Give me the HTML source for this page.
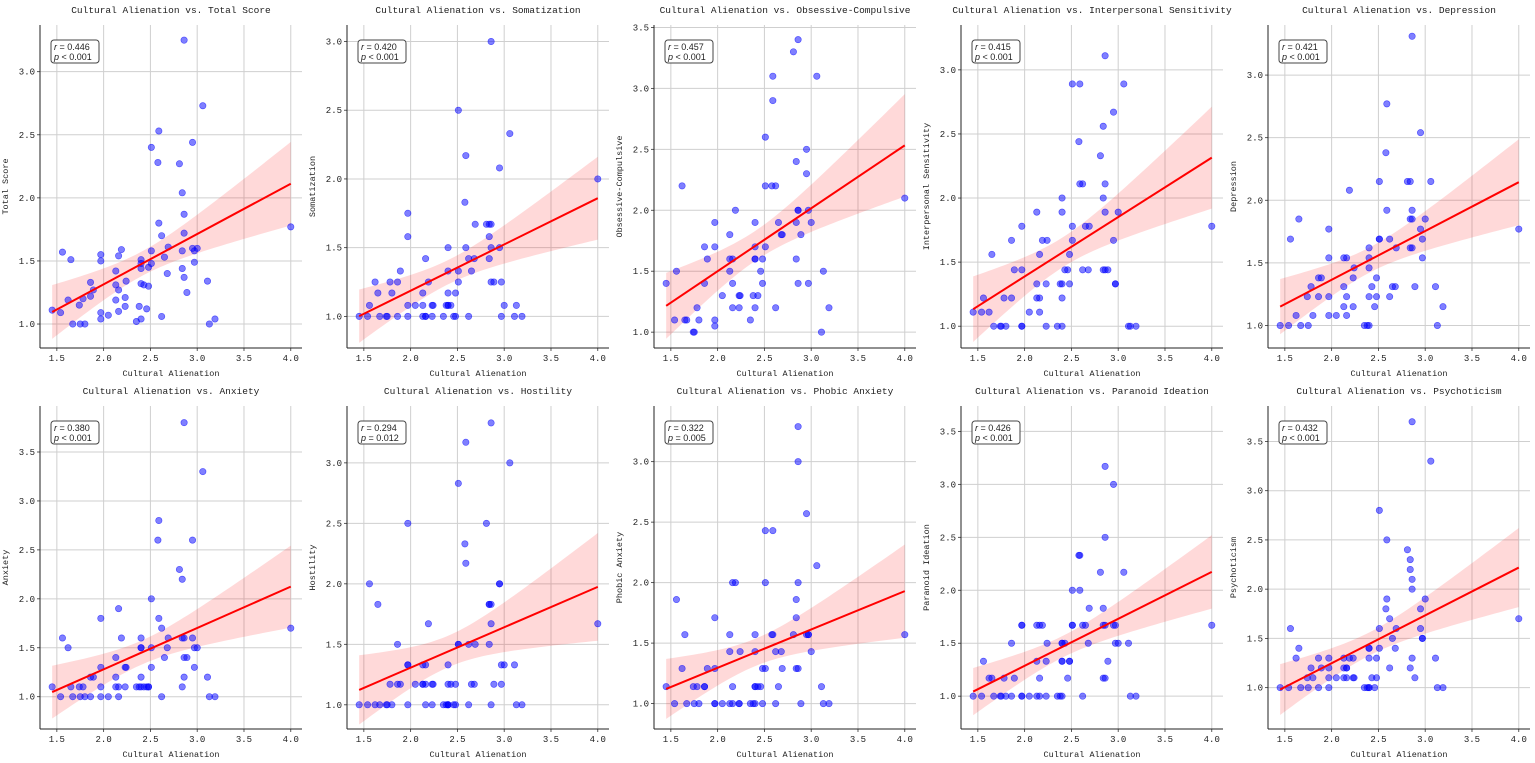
<!DOCTYPE html>
<html><head><meta charset="utf-8">
<style>
html,body{margin:0;padding:0;background:#fff;}
svg{display:block;}
text{font-family:"Liberation Mono","DejaVu Sans Mono",monospace;fill:#222;}
</style></head>
<body>
<svg id="chart" width="1535" height="763" viewBox="0 0 1535 763" xmlns="http://www.w3.org/2000/svg"></svg>
<script>
const xVals=[2.86,3.06,2.59,2.51,2.95,2.58,2.81,2.84,2.86,4.0,2.59,2.62,2.86,2.69,2.95,3.0,2.97,2.84,2.51,1.56,1.65,1.97,1.97,2.19,2.16,2.40,2.40,2.51,2.65,2.48,2.40,2.84,2.97,2.13,2.68,2.86,3.11,2.24,1.86,2.13,2.40,2.43,2.48,1.89,2.16,2.89,1.86,1.78,2.23,1.62,2.13,1.74,2.23,2.38,1.45,1.54,1.97,2.16,2.46,2.05,1.97,2.62,2.40,2.35,1.67,1.75,1.80,3.13,3.19];
const yTotal=[3.25,2.73,2.53,2.40,2.44,2.28,2.27,2.04,1.87,1.77,1.80,1.70,1.72,1.61,1.60,1.60,1.58,1.58,1.58,1.57,1.51,1.55,1.50,1.59,1.54,1.51,1.48,1.48,1.53,1.45,1.44,1.44,1.49,1.42,1.40,1.37,1.34,1.34,1.33,1.31,1.32,1.31,1.30,1.27,1.27,1.25,1.22,1.20,1.21,1.19,1.19,1.15,1.14,1.14,1.11,1.09,1.09,1.10,1.12,1.07,1.04,1.06,1.04,1.02,1.0,1.0,1.0,1.0,1.04];
const ySom=[3.0,2.33,2.17,2.5,2.08,1.83,1.67,1.67,1.67,2.0,1.5,1.42,1.5,1.67,1.5,1.08,1.25,1.42,1.33,1.08,1.17,1.75,1.58,1.25,1.42,1.5,1.33,1.25,1.33,1.17,1.08,1.58,1.0,1.17,1.42,1.25,1.0,1.08,1.25,1.08,1.17,1.08,1.0,1.33,1.0,1.25,1.0,1.25,1.08,1.25,1.0,1.0,1.0,1.08,1.0,1.0,1.08,1.0,1.0,1.08,1.0,1.0,1.08,1.0,1.0,1.0,1.17,1.08,1.0];
const yObs=[3.4,3.1,3.1,2.6,2.5,2.2,3.3,2.4,2.0,2.1,2.9,2.2,2.0,1.8,2.3,1.9,2.0,1.9,2.2,1.5,1.1,1.9,1.7,2.0,1.6,1.9,1.6,1.7,1.9,1.6,1.6,1.6,1.4,1.5,1.8,1.4,1.0,1.3,1.7,1.6,1.7,1.3,1.4,1.6,1.4,1.8,1.4,1.2,1.3,2.2,1.8,1.0,1.2,1.3,1.4,1.1,1.1,1.2,1.5,1.3,1.05,1.2,1.2,1.1,1.1,1.0,1.1,1.5,1.2];
const yInt=[3.11,2.89,2.89,2.89,2.67,2.44,2.33,2.56,2.11,1.78,2.11,2.11,1.89,1.78,1.67,1.89,1.33,2.0,1.78,1.22,1.56,1.78,1.44,1.67,1.56,2.0,1.89,1.67,1.78,1.56,1.33,1.44,1.33,1.89,1.44,1.44,1.0,1.67,1.67,1.33,1.22,1.44,1.33,1.44,1.22,1.44,1.22,1.22,1.33,1.11,1.22,1.0,1.0,1.33,1.11,1.11,1.0,1.11,1.44,1.11,1.0,1.44,1.0,1.0,1.0,1.0,1.0,1.0,1.0];
const yDep=[3.31,2.15,2.77,2.15,2.54,2.38,2.15,2.15,1.92,1.77,1.92,1.69,1.85,1.62,1.77,1.85,1.54,1.85,1.69,1.69,1.85,1.77,1.54,2.08,1.54,1.62,1.54,1.69,1.31,1.38,1.46,1.62,1.69,1.31,1.31,1.62,1.31,1.46,1.38,1.54,1.23,1.31,1.23,1.38,1.23,1.31,1.23,1.31,1.38,1.08,1.15,1.23,1.15,1.0,1.0,1.0,1.08,1.08,1.15,1.08,1.23,1.23,1.0,1.0,1.0,1.0,1.08,1.0,1.15];
const yAnx=[3.8,3.3,2.8,2.0,2.6,2.6,2.3,2.2,1.6,1.7,1.8,1.7,1.4,1.6,1.6,1.5,1.5,1.6,1.3,1.6,1.1,1.8,1.3,1.6,1.9,1.5,1.6,1.5,1.4,1.1,1.5,1.1,1.3,1.4,1.5,1.2,1.2,1.3,1.2,1.2,1.2,1.1,1.1,1.2,1.1,1.4,1.0,1.1,1.3,1.5,1.1,1.1,1.1,1.1,1.1,1.0,1.1,1.0,1.1,1.0,1.0,1.0,1.1,1.1,1.0,1.0,1.0,1.0,1.0];
const yHos=[3.33,3.0,3.17,2.83,2.0,2.33,2.5,1.83,1.83,1.67,2.17,1.5,1.67,1.5,2.0,1.33,1.17,1.83,1.5,2.0,1.83,2.5,1.33,1.67,1.17,1.17,1.33,1.5,1.17,1.17,1.0,1.5,1.33,1.33,1.17,1.0,1.33,1.17,1.5,1.17,1.0,1.17,1.0,1.17,1.33,1.17,1.17,1.17,1.17,1.0,1.17,1.0,1.0,1.0,1.0,1.0,1.33,1.0,1.0,1.17,1.0,1.0,1.0,1.0,1.0,1.0,1.0,1.0,1.0];
const yPho=[3.29,2.14,2.43,2.43,2.57,1.57,1.57,1.86,2.0,1.57,1.57,1.43,3.0,1.29,1.57,1.43,1.57,1.71,2.0,1.86,1.57,1.71,1.29,2.0,2.0,1.57,1.43,1.29,1.14,1.29,1.14,1.29,1.57,1.43,1.43,1.29,1.14,1.43,1.14,1.57,1.14,1.14,1.0,1.29,1.14,1.0,1.14,1.14,1.0,1.29,1.0,1.14,1.0,1.0,1.14,1.0,1.0,1.0,1.14,1.0,1.0,1.0,1.0,1.0,1.0,1.0,1.0,1.0,1.0];
const yPar=[3.17,2.17,2.33,2.0,3.0,2.33,2.17,1.83,2.5,1.67,2.0,1.67,1.67,1.83,1.67,1.5,1.5,1.67,1.67,1.33,1.17,1.67,1.67,1.67,1.67,1.5,1.5,1.67,1.67,1.33,1.33,1.17,1.67,1.67,1.5,1.17,1.5,1.5,1.5,1.33,1.33,1.5,1.33,1.17,1.17,1.33,1.0,1.17,1.33,1.17,1.0,1.0,1.0,1.0,1.0,1.0,1.0,1.0,1.17,1.0,1.0,1.0,1.0,1.0,1.0,1.0,1.0,1.0,1.0];
const yPsy=[3.7,3.3,2.5,2.8,1.8,1.8,2.4,2.3,2.1,1.7,1.9,1.7,2.0,1.6,1.6,1.9,1.5,2.2,1.4,1.6,1.4,1.3,1.2,1.3,1.2,1.3,1.4,1.6,1.5,1.3,1.4,1.2,1.5,1.3,1.4,1.3,1.3,1.1,1.3,1.2,1.0,1.1,1.1,1.2,1.1,1.1,1.0,1.2,1.3,1.3,1.1,1.1,1.1,1.0,1.0,1.0,1.1,1.2,1.0,1.1,1.0,1.2,1.0,1.0,1.0,1.0,1.1,1.0,1.0];
const names=["Total Score","Somatization","Obsessive-Compulsive","Interpersonal Sensitivity","Depression","Anxiety","Hostility","Phobic Anxiety","Paranoid Ideation","Psychoticism"];
const rLabels=["0.446","0.420","0.457","0.415","0.421","0.380","0.294","0.322","0.426","0.432"];
const pLabels=["< 0.001","< 0.001","< 0.001","< 0.001","< 0.001","< 0.001","= 0.012","= 0.005","< 0.001","< 0.001"];
const yMins=[0.81,0.77,0.87,0.83,0.82,0.67,0.80,0.79,0.69,0.58];
const yMaxs=[3.37,3.12,3.52,3.35,3.40,3.97,3.47,3.46,3.74,3.86];
const xTicks=[1.5,2.0,2.5,3.0,3.5,4.0];
const ys=[yTotal,ySom,yObs,yInt,yDep,yAnx,yHos,yPho,yPar,yPsy];
const X_MIN=1.32,X_MAX=4.12;

const svg=document.getElementById('chart');
const NS='http://www.w3.org/2000/svg';
function mk(tag,attrs,parent){const e=document.createElementNS(NS,tag);for(const k in attrs)e.setAttribute(k,attrs[k]);(parent||svg).appendChild(e);return e;}

ys.forEach((yv,i)=>{
  const c=i%5,r=Math.floor(i/5);
  const L=40+c*307,R=302+c*307,T=25+r*381,B=348+r*381;
  const ymin=yMins[i],ymax=yMaxs[i];
  const sx=v=>L+(v-X_MIN)/(X_MAX-X_MIN)*(R-L);
  const sy=v=>B-(v-ymin)/(ymax-ymin)*(B-T);
  const g=mk('g',{});
  
  
  // grid
  xTicks.forEach(t=>{
    const l=mk('line',{x1:sx(t),x2:sx(t),y1:T,y2:B,stroke:'#cfcfcf','stroke-width':1},g);
    
    
    mk('line',{x1:sx(t),x2:sx(t),y1:B,y2:B+3,stroke:'#333','stroke-width':0.8},g);
    const tx=mk('text',{x:sx(t),y:B+13,'text-anchor':'middle','font-size':9},g);
    tx.textContent=t.toFixed(1);
    
    
  });
  for(let t=Math.ceil(ymin*2)/2;t<=ymax;t+=0.5){
    const l=mk('line',{x1:L,x2:R,y1:sy(t),y2:sy(t),stroke:'#cfcfcf','stroke-width':1},g);
    
    
    mk('line',{x1:L-3,x2:L,y1:sy(t),y2:sy(t),stroke:'#333','stroke-width':0.8},g);
    const tx=mk('text',{x:L-5,y:sy(t)+3,'text-anchor':'end','font-size':9},g);
    tx.textContent=t.toFixed(1);
    
    
  }
  // regression
  const n=xVals.length;
  let mx=0,my=0;for(let k=0;k<n;k++){mx+=xVals[k];my+=yv[k];}mx/=n;my/=n;
  let sxx=0,sxy=0;for(let k=0;k<n;k++){sxx+=(xVals[k]-mx)**2;sxy+=(xVals[k]-mx)*(yv[k]-my);}
  const b=sxy/sxx,a=my-b*mx;
  let sse=0;for(let k=0;k<n;k++){sse+=(yv[k]-a-b*xVals[k])**2;}
  const s=Math.sqrt(sse/(n-2));
  const x0=Math.min(...xVals),x1=Math.max(...xVals);
  const up=[],lo=[];
  for(let k=0;k<=60;k++){
    const xx=x0+(x1-x0)*k/60;
    const se=s*Math.sqrt(1/n+(xx-mx)**2/sxx)*1.996;
    const yy=a+b*xx;
    up.push(sx(xx)+','+sy(yy+se));lo.unshift(sx(xx)+','+sy(yy-se));
  }
  const band=mk('polygon',{points:up.concat(lo).join(' '),fill:'rgba(255,0,0,0.15)'},g);
  
  
  // points
  for(let k=0;k<n;k++){
    const p=mk('circle',{cx:sx(xVals[k]),cy:sy(yv[k]),r:3.2,fill:'rgba(0,0,255,0.5)',stroke:'rgba(0,0,255,0.6)','stroke-width':0.6},g);
    
    
  }
  const line=mk('line',{x1:sx(x0),y1:sy(a+b*x0),x2:sx(x1),y2:sy(a+b*x1),stroke:'#ff0000','stroke-width':2},g);
  
  
  // spines
  mk('line',{x1:L,x2:L,y1:T,y2:B,stroke:'#222','stroke-width':1},g);
  mk('line',{x1:L,x2:R,y1:B,y2:B,stroke:'#222','stroke-width':1},g);
  // title
  const ti=mk('text',{x:(L+R)/2,y:T-12,'text-anchor':'middle','font-size':9.5},g);
  ti.textContent='Cultural Alienation vs. '+names[i];
  
  
  const xl=mk('text',{x:(L+R)/2,y:B+28,'text-anchor':'middle','font-size':8.5},g);
  xl.textContent='Cultural Alienation';
  
  
  const yl=mk('text',{x:0,y:0,'text-anchor':'middle','font-size':8.5,transform:'translate('+(L-32)+','+((T+B)/2)+') rotate(-90)'},g);
  yl.textContent=names[i];
  
  
  // stats box
  const bx=mk('rect',{x:L+11,y:T+15,width:48,height:23,rx:3,fill:'#fff',stroke:'#444','stroke-width':1},g);
  
  
  const t1=mk('text',{x:L+14,y:T+25,'font-size':9,style:'font-family:"Liberation Sans",sans-serif'},g);
  t1.innerHTML='<tspan font-style="italic">r</tspan> = '+rLabels[i];
  
  
  const t2=mk('text',{x:L+14,y:T+35,'font-size':9,style:'font-family:"Liberation Sans",sans-serif'},g);
  t2.innerHTML='<tspan font-style="italic">p</tspan> '+pLabels[i];
  
  
});
</script>
</body></html>
